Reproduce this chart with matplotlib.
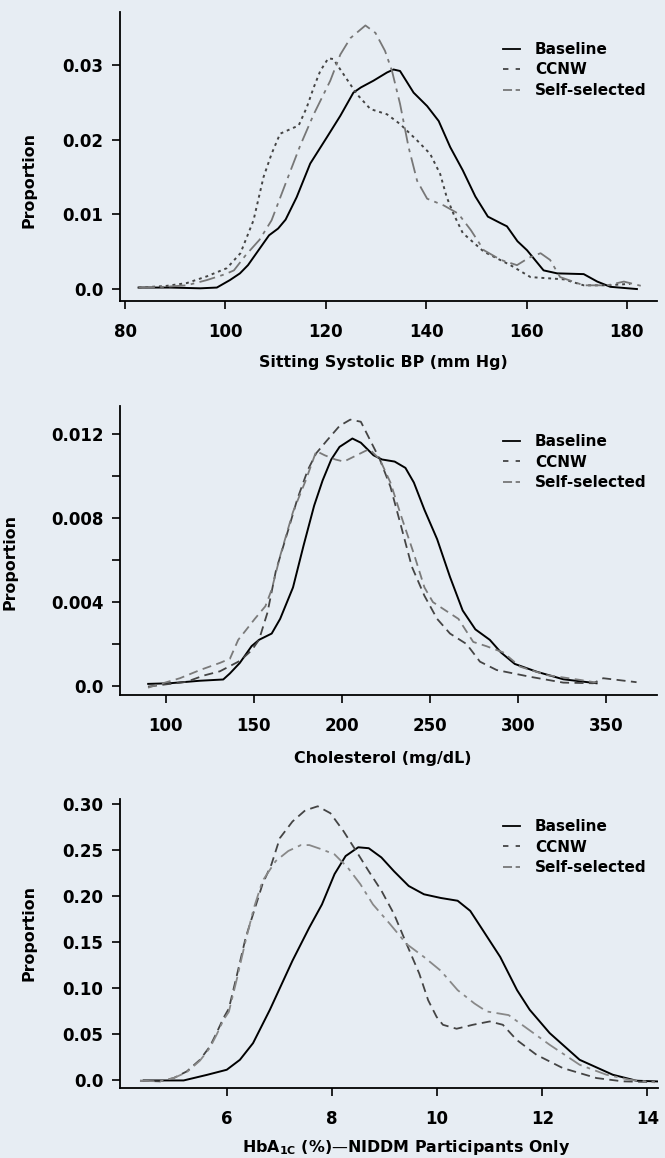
import matplotlib
matplotlib.use("Agg")
import matplotlib.pyplot as plt
from matplotlib.lines import Line2D

# ---------------- data ----------------
series_names = ["Baseline", "CCNW", "Self-selected"]

# Panel 1: Sitting systolic BP
bp_base_x = [82.7, 89, 95, 98.3, 100.9, 102.9, 104.5, 106.6, 108.7, 110.5, 112, 114.2, 116.9, 120.2,
             122.9, 125.5, 127, 129.5, 132.2, 133.5, 134.8, 137.5, 140.2, 142.5, 144.8, 147.3, 149.8,
             152.3, 154.9, 156.1, 158.2, 160.1, 163.4, 166.1, 171.4, 174.1, 176.7, 182]
bp_base_y = [0.0002, 0.0002, 0.0001, 0.0002, 0.0012, 0.0021, 0.0032, 0.0052, 0.0072, 0.0081, 0.0093,
             0.0123, 0.0168, 0.0203, 0.0232, 0.0263, 0.0270, 0.0279, 0.0290, 0.0294, 0.0292, 0.0263,
             0.0245, 0.0225, 0.0190, 0.0159, 0.0124, 0.0097, 0.0088, 0.0084, 0.0064, 0.0052, 0.0025,
             0.0021, 0.0020, 0.0010, 0.0003, 0.0000]
bp_ccnw_x = [82.7, 88, 92.3, 96.3, 100.3, 103, 105.6, 107.6, 109.2, 110.9, 112.9, 114.6, 116.2, 117.6,
             118.9, 120.5, 121.5, 123.5, 126.2, 128.9, 132.2, 134.8, 138.2, 140.8, 142.8, 144.1, 145.5,
             147.3, 151.5, 156.8, 160.8, 167.4, 171.4, 176.1, 180.7]
bp_ccnw_y = [0.0002, 0.0004, 0.0008, 0.0017, 0.0028, 0.0048, 0.0092, 0.0150, 0.0181, 0.0208, 0.0214,
             0.0219, 0.0243, 0.0270, 0.0292, 0.0309, 0.0308, 0.0288, 0.0261, 0.0241, 0.0234, 0.0221,
             0.0199, 0.0181, 0.0154, 0.0123, 0.0100, 0.0075, 0.0050, 0.0032, 0.0016, 0.0013, 0.0005,
             0.0005, 0.0007]
bp_self_x = [82.7, 88, 92.3, 96.3, 100, 101.7, 104, 106.8, 109.2, 112.2, 114.9, 117.6, 120.9, 122.9,
             124.9, 127.9, 129.9, 131.8, 133.2, 134.8, 136.5, 138.2, 140.2, 143.5, 146.4, 148.9, 151.5,
             154.9, 158.1, 160.5, 162.8, 164.7, 166.7, 171.4, 176.1, 179.4, 183]
bp_self_y = [0.0002, 0.0003, 0.0005, 0.0012, 0.0020, 0.0025, 0.0045, 0.0066, 0.0092, 0.0145, 0.0192,
             0.0234, 0.0279, 0.0314, 0.0336, 0.0353, 0.0343, 0.0319, 0.0292, 0.0248, 0.0190, 0.0145,
             0.0121, 0.0112, 0.0101, 0.0079, 0.0052, 0.0039, 0.0032, 0.0042, 0.0048, 0.0039, 0.0016,
             0.0005, 0.0005, 0.0010, 0.0004]

# Panel 2: Cholesterol
ch_base_x = [90.1, 102.4, 119.5, 132.7, 136.5, 142.1, 148.8, 153, 160.2, 165, 172.3, 178.3, 184.3,
             189.1, 194, 198.7, 206, 210.8, 218, 222.8, 230, 236.1, 240.9, 246.9, 254.1, 261.4, 268.6,
             275.8, 284, 290.3, 298.2, 310.6, 325.7, 344.6]
ch_base_y = [0.0001, 0.00013, 0.00025, 0.00031, 0.0006, 0.0011, 0.0019, 0.0022, 0.0025, 0.0032, 0.0047,
             0.0067, 0.0086, 0.0098, 0.0108, 0.0114, 0.0118, 0.0116, 0.0110, 0.0108, 0.0107, 0.0104,
             0.0097, 0.0084, 0.0070, 0.0052, 0.0036, 0.0027, 0.0022, 0.0016, 0.00105, 0.00068,
             0.00032, 0.00013]
ch_ccnw_x = [90, 111.9, 121.7, 130.8, 142.2, 148.8, 153, 157.8, 162.6, 169.8, 174.7, 180.7, 185.5,
             191.5, 198.7, 204.8, 210.8, 215.6, 221.6, 227.6, 233.7, 239.7, 246.9, 254.1, 261.4, 270.8,
             278.4, 287.9, 306.8, 325.7, 342.7, 348.4, 367.3]
ch_ccnw_y = [-0.00003, 0.0002, 0.0005, 0.0007, 0.0012, 0.0017, 0.0022, 0.0035, 0.0055, 0.0075, 0.0089,
             0.0103, 0.0111, 0.0117, 0.0124, 0.0127, 0.0126, 0.0118, 0.0108, 0.0095, 0.0076, 0.0057,
             0.0043, 0.0032, 0.0025, 0.0020, 0.00116, 0.00076, 0.00044, 0.00016, 0.00013, 0.00037,
             0.00018]
ch_self_x = [90, 108.1, 119.5, 130.8, 136.5, 141.2, 145, 150.6, 156.6, 160.2, 165, 172.3, 179.5, 185.5,
             190.3, 196.3, 201.2, 208.4, 215.6, 221.6, 227.6, 233.7, 240.9, 246.9, 251.7, 258.9, 266.2,
             274.6, 282, 291.6, 301.2, 316.3, 335.2, 344.6]
ch_self_y = [-0.00008, 0.00037, 0.00076, 0.0011, 0.0013, 0.0022, 0.0026, 0.0032, 0.0038, 0.0046, 0.0062,
             0.0083, 0.0098, 0.0112, 0.0110, 0.0108, 0.0107, 0.0110, 0.0113, 0.0108, 0.0097, 0.0081,
             0.0063, 0.0047, 0.0040, 0.0036, 0.0032, 0.0021, 0.0019, 0.0016, 0.00092, 0.00052,
             0.00029, 0.00016]

# Panel 3: HbA1c
hb_base_x = [4.42, 5.18, 5.62, 6.0, 6.25, 6.5, 6.82, 7.25, 7.57, 7.81, 8.05, 8.26, 8.5, 8.7, 8.94,
             9.18, 9.46, 9.75, 10.07, 10.39, 10.63, 10.87, 11.2, 11.52, 11.76, 12.14, 12.71, 13.34,
             13.79, 14.2]
hb_base_y = [0.0, 0.0, 0.006, 0.0116, 0.0224, 0.0405, 0.0767, 0.130, 0.166, 0.191, 0.224, 0.2435,
             0.253, 0.252, 0.242, 0.227, 0.211, 0.202, 0.198, 0.195, 0.184, 0.163, 0.134, 0.098,
             0.0767, 0.0514, 0.0224, 0.0062, -0.0003, -0.0011]
hb_ccnw_x = [4.35, 4.73, 4.99, 5.24, 5.49, 5.68, 5.81, 5.94, 6.04, 6.2, 6.36, 6.52, 6.68, 6.85, 7.01,
             7.25, 7.49, 7.73, 7.97, 8.22, 8.46, 8.7, 8.94, 9.18, 9.42, 9.66, 9.83, 9.99, 10.11,
             10.37, 10.68, 11.0, 11.25, 11.51, 11.89, 12.39, 13.03, 13.53, 14.14]
hb_ccnw_y = [-0.0003, -0.001, 0.0026, 0.0098, 0.0224, 0.0369, 0.052, 0.068, 0.078, 0.116, 0.155,
             0.184, 0.213, 0.2345, 0.263, 0.281, 0.293, 0.2975, 0.290, 0.2705, 0.249, 0.227, 0.206,
             0.1806, 0.148, 0.116, 0.087, 0.069, 0.0604, 0.0561, 0.0604, 0.064, 0.0604, 0.0441,
             0.0278, 0.0134, 0.0026, -0.001, -0.0018]
hb_self_x = [4.35, 4.73, 4.99, 5.24, 5.49, 5.68, 5.81, 5.94, 6.04, 6.2, 6.36, 6.52, 6.68, 6.93, 7.17,
             7.41, 7.57, 7.81, 8.05, 8.3, 8.54, 8.78, 9.1, 9.42, 9.75, 10.07, 10.39, 10.71, 10.94,
             11.36, 11.57, 12.14, 12.71, 13.22, 13.66, 14.14]
hb_self_y = [-0.0003, -0.001, 0.0026, 0.0090, 0.0215, 0.0355, 0.050, 0.066, 0.0745, 0.112, 0.152,
             0.188, 0.2165, 0.238, 0.249, 0.2554, 0.2554, 0.2507, 0.2453, 0.231, 0.213, 0.191, 0.170,
             0.148, 0.134, 0.119, 0.098, 0.0835, 0.0749, 0.0709, 0.0622, 0.0387, 0.017, 0.0062,
             0.0007, -0.002]

bp_xticks = [80, 100, 120, 140, 160, 180]
bp_yticks = [0.0, 0.01, 0.02, 0.03]
bp_ylabels = ["0.0", "0.01", "0.02", "0.03"]
ch_xticks = [100, 150, 200, 250, 300, 350]
ch_yticks = [0.0, 0.004, 0.008, 0.012]
ch_ylabels = ["0.0", "0.004", "0.008", "0.012"]
ch_yminor = [0.002, 0.006, 0.010]
hb_xticks = [6, 8, 10, 12, 14]
hb_yticks = [0.0, 0.05, 0.10, 0.15, 0.20, 0.25, 0.30]
hb_ylabels = ["0.0", "0.05", "0.10", "0.15", "0.20", "0.25", "0.30"]

# ---------------- style ----------------
BG = "#e7edf3"
FONT = ["DejaVu Sans"]
plt.rcParams["font.family"] = FONT
plt.rcParams["font.weight"] = "bold"
plt.rcParams["mathtext.fontset"] = "dejavusans"

W, H = 665, 1158
fig = plt.figure(figsize=(W / 100, H / 100), dpi=100, facecolor=BG)

def px_axes(left, top, right, bottom):
    return fig.add_axes([left / W, 1 - bottom / H, (right - left) / W, (bottom - top) / H])

TICK_FS = 12
LAB_FS = 11.4
LEG_FS = 11

def style(ax, xlim, ylim, xticks, yticks, ylabels):
    ax.set_facecolor(BG)
    ax.set_xlim(*xlim)
    ax.set_ylim(*ylim)
    for s in ("top", "right"):
        ax.spines[s].set_visible(False)
    for s in ("left", "bottom"):
        ax.spines[s].set_linewidth(1.3)
    ax.set_xticks(xticks)
    ax.set_xticklabels([str(t) for t in xticks])
    ax.set_yticks(yticks)
    ax.set_yticklabels(ylabels)
    ax.tick_params(axis="both", which="both", length=6, width=1.2, labelsize=TICK_FS)
    ax.tick_params(axis="x", pad=10)
    ax.tick_params(axis="y", pad=6)
    for lab in ax.get_xticklabels() + ax.get_yticklabels():
        lab.set_fontweight("bold")

def legend(ax, handles, x_px, top_px):
    return ax.legend(handles=handles, labels=series_names, loc="upper left",
                     bbox_to_anchor=(x_px / W, 1 - top_px / H), bbox_transform=fig.transFigure,
                     frameon=False, handlelength=1.1, handletextpad=1.0,
                     labelspacing=0.36, borderpad=0, borderaxespad=0,
                     prop={"weight": "bold", "size": LEG_FS, "family": FONT})

leg_handles_common = [
    Line2D([], [], color="black", lw=1.3, ls="-"),
    Line2D([], [], color="#444444", lw=1.3, ls=(0, (3, 4))),
    Line2D([], [], color="#777777", lw=1.3, ls=(0, (5, 2))),
]

# ---------- Panel 1 ----------
ax1 = px_axes(120, 12, 657, 301)
ax1.plot(bp_base_x, bp_base_y, color="black", lw=1.4, ls="-")
ax1.plot(bp_ccnw_x, bp_ccnw_y, color="#444444", lw=1.4, ls=(0, (1.5, 2)))
ax1.plot(bp_self_x, bp_self_y, color="#777777", lw=1.3, ls=(0, (9, 3, 2, 3)))
style(ax1, (79.0, 186.0), (-0.0016, 0.0371), bp_xticks, bp_yticks, bp_ylabels)
ax1.text(0.49, -0.2145, "Sitting Systolic BP (mm Hg)", transform=ax1.transAxes,
         ha="center", va="center", fontsize=LAB_FS, fontweight="bold")
ax1.text(-0.1695, 0.4187, "Proportion", transform=ax1.transAxes, rotation=90,
         ha="center", va="center", fontsize=LAB_FS, fontweight="bold")
legend(ax1, leg_handles_common, 503, 42)

# ---------- Panel 2 ----------
ax2 = px_axes(120, 406, 657, 695)
ax2.plot(ch_base_x, ch_base_y, color="black", lw=1.4, ls="-")
ax2.plot(ch_ccnw_x, ch_ccnw_y, color="#444444", lw=1.3, ls=(0, (5, 3)))
ax2.plot(ch_self_x, ch_self_y, color="#7a7a7a", lw=1.3, ls=(0, (5, 3)))
style(ax2, (74.1, 378.9), (-0.00043, 0.01335), ch_xticks, ch_yticks, ch_ylabels)
ax2.set_yticks(ch_yminor, minor=True)
ax2.tick_params(axis="y", which="minor", length=6, width=1.2)
ax2.text(0.49, -0.218, "Cholesterol (mg/dL)", transform=ax2.transAxes,
         ha="center", va="center", fontsize=LAB_FS, fontweight="bold")
ax2.text(-0.205, 0.46, "Proportion", transform=ax2.transAxes, rotation=90,
         ha="center", va="center", fontsize=LAB_FS, fontweight="bold")
legend(ax2, leg_handles_common, 503, 434)

# ---------- Panel 3 ----------
ax3 = px_axes(120, 799, 658, 1088)
ax3.plot(hb_base_x, hb_base_y, color="black", lw=1.4, ls="-")
ax3.plot(hb_ccnw_x, hb_ccnw_y, color="#444444", lw=1.3, ls=(0, (5, 3)))
ax3.plot(hb_self_x, hb_self_y, color="#888888", lw=1.3, ls=(0, (8, 3, 2, 3)))
style(ax3, (3.97, 14.2), (-0.0082, 0.3054), hb_xticks, hb_yticks, hb_ylabels)
ax3.text(0.532, -0.2076, r"HbA$_{\mathbf{1C}}$ (%)—NIDDM Participants Only", transform=ax3.transAxes,
         ha="center", va="center", fontsize=LAB_FS, fontweight="bold")
ax3.text(-0.1695, 0.536, "Proportion", transform=ax3.transAxes, rotation=90,
         ha="center", va="center", fontsize=LAB_FS, fontweight="bold")
legend(ax3, leg_handles_common, 503, 819)

fig.savefig("out.png", dpi=100, facecolor=BG)
